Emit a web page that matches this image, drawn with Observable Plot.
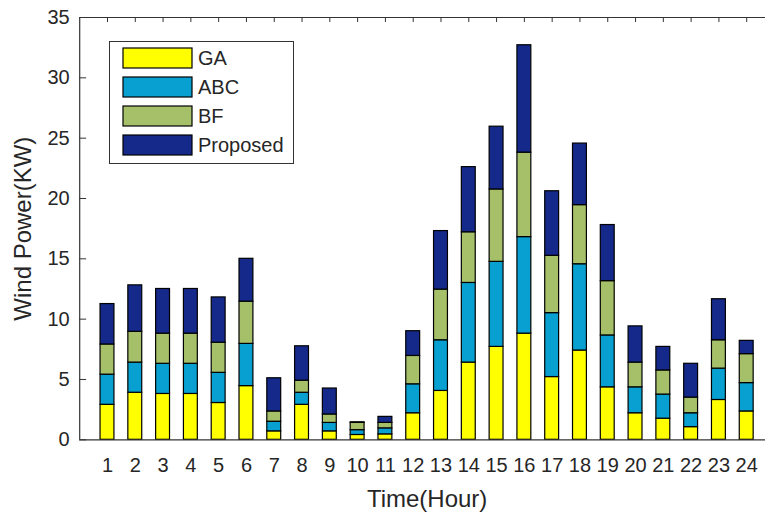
<!DOCTYPE html>
<html><head><meta charset="utf-8">
<script src="https://cdn.jsdelivr.net/npm/d3@7"></script>
<script src="https://cdn.jsdelivr.net/npm/@observablehq/plot@0.6"></script>
<style>body{margin:0;background:#fff}#chart{width:765px;height:516px;overflow:hidden}</style>
</head><body><div id="chart"></div>
<script>
const hours = d3.range(1, 25);
const series = ["GA", "ABC", "BF", "Proposed"];
const colors = ["#ffff00", "#07a0d0", "#a6c06a", "#14298a"];
const GA       = [2.9, 3.9, 3.8, 3.8, 3.05, 4.45, 0.7, 2.9, 0.7, 0.4, 0.45, 2.2, 4.05, 6.4, 7.7, 8.8, 5.2, 7.4, 4.35, 2.2, 1.75, 1.05, 3.3, 2.35];
const ABC      = [2.5, 2.5, 2.5, 2.5, 2.5, 3.5, 0.8, 1.0, 0.7, 0.4, 0.5, 2.4, 4.2, 6.6, 7.05, 8.0, 5.3, 7.15, 4.3, 2.15, 2.0, 1.15, 2.6, 2.35];
const BF       = [2.5, 2.55, 2.5, 2.5, 2.5, 3.5, 0.85, 1.0, 0.7, 0.6, 0.45, 2.35, 4.2, 4.2, 6.0, 7.0, 4.75, 4.9, 4.5, 2.05, 2.0, 1.3, 2.35, 2.4];
const Proposed = [3.35, 3.85, 3.7, 3.7, 3.75, 3.55, 2.75, 2.85, 2.15, 0.05, 0.5, 2.05, 4.85, 5.4, 5.2, 8.9, 5.35, 5.1, 4.65, 3.0, 1.95, 2.8, 3.4, 1.1];
const yTicks = [0, 5, 10, 15, 20, 25, 30, 35];
const xLabel = "Time(Hour)";
const yLabel = "Wind Power(KW)";

const valuesBySeries = [GA, ABC, BF, Proposed];
const data = hours.flatMap((h, i) => series.map((s, j) => ({hour: h, series: s, value: valuesBySeries[j][i]})));

const ink = "#262626";
const font = "'Liberation Sans', Arial, Helvetica, sans-serif";

const plot = Plot.plot({
  width: 765,
  height: 516,
  style: {fontFamily: font, color: ink, background: "white", overflow: "hidden"},
  x: {domain: [0, 25], range: [79.2, 774], axis: null},
  y: {domain: [0, 35], range: [439.3, 17], axis: null},
  color: {domain: series, range: colors},
  marks: [
    Plot.rectY(data, Plot.stackY({
      x: "hour",
      x1: d => d.hour - 0.25,
      x2: d => d.hour + 0.25,
      y: "value",
      fill: "series",
      stroke: "black",
      strokeWidth: 1.2
    })),
    Plot.ruleY([0, 35], {x1: 0, x2: 25, stroke: "#333", strokeWidth: 1.2}),
    Plot.ruleX([0], {y1: 0, y2: 35, stroke: "#333", strokeWidth: 1.2}),
    Plot.ruleY(yTicks, {x1: 0, x2: 0.25, stroke: "#333", strokeWidth: 1}),
    Plot.ruleX(hours, {y1: 35, y2: 35 - 0.42, stroke: "#333", strokeWidth: 1}),
    Plot.text(yTicks, {x: 0, y: d => d, text: d => String(d), dx: -10, textAnchor: "end", fontSize: 20, fill: ink}),
    Plot.text(hours, {x: d => d, y: 0, text: d => String(d), dy: 26, fontSize: 20, fill: ink}),
    Plot.text([xLabel], {x: 12.5, y: 0, text: d => d, dy: 60, fontSize: 24, fill: ink}),
    Plot.text([yLabel], {x: 0, y: 17.5, text: d => d, dx: -56, rotate: -90, fontSize: 24, fill: ink})
  ]
});

// Legend (drawn inside the axes, as in the reference)
const svg = d3.select(plot);
const lg = svg.append("g").attr("font-family", font).attr("text-anchor", "start");
lg.append("rect").attr("x", 109.5).attr("y", 41.5).attr("width", 184).attr("height", 122)
  .attr("fill", "white").attr("stroke", "#333").attr("stroke-width", 1);
series.forEach((s, i) => {
  lg.append("rect").attr("x", 123).attr("y", 48 + i * 29).attr("width", 69).attr("height", 20)
    .attr("fill", colors[i]).attr("stroke", "black").attr("stroke-width", 1.2);
  lg.append("text").attr("x", 198).attr("y", 58 + i * 29).attr("dy", "0.35em")
    .attr("text-anchor", "start").attr("font-size", 20).attr("fill", ink).text(s);
});

document.getElementById("chart").appendChild(plot);
</script>
</body></html>
